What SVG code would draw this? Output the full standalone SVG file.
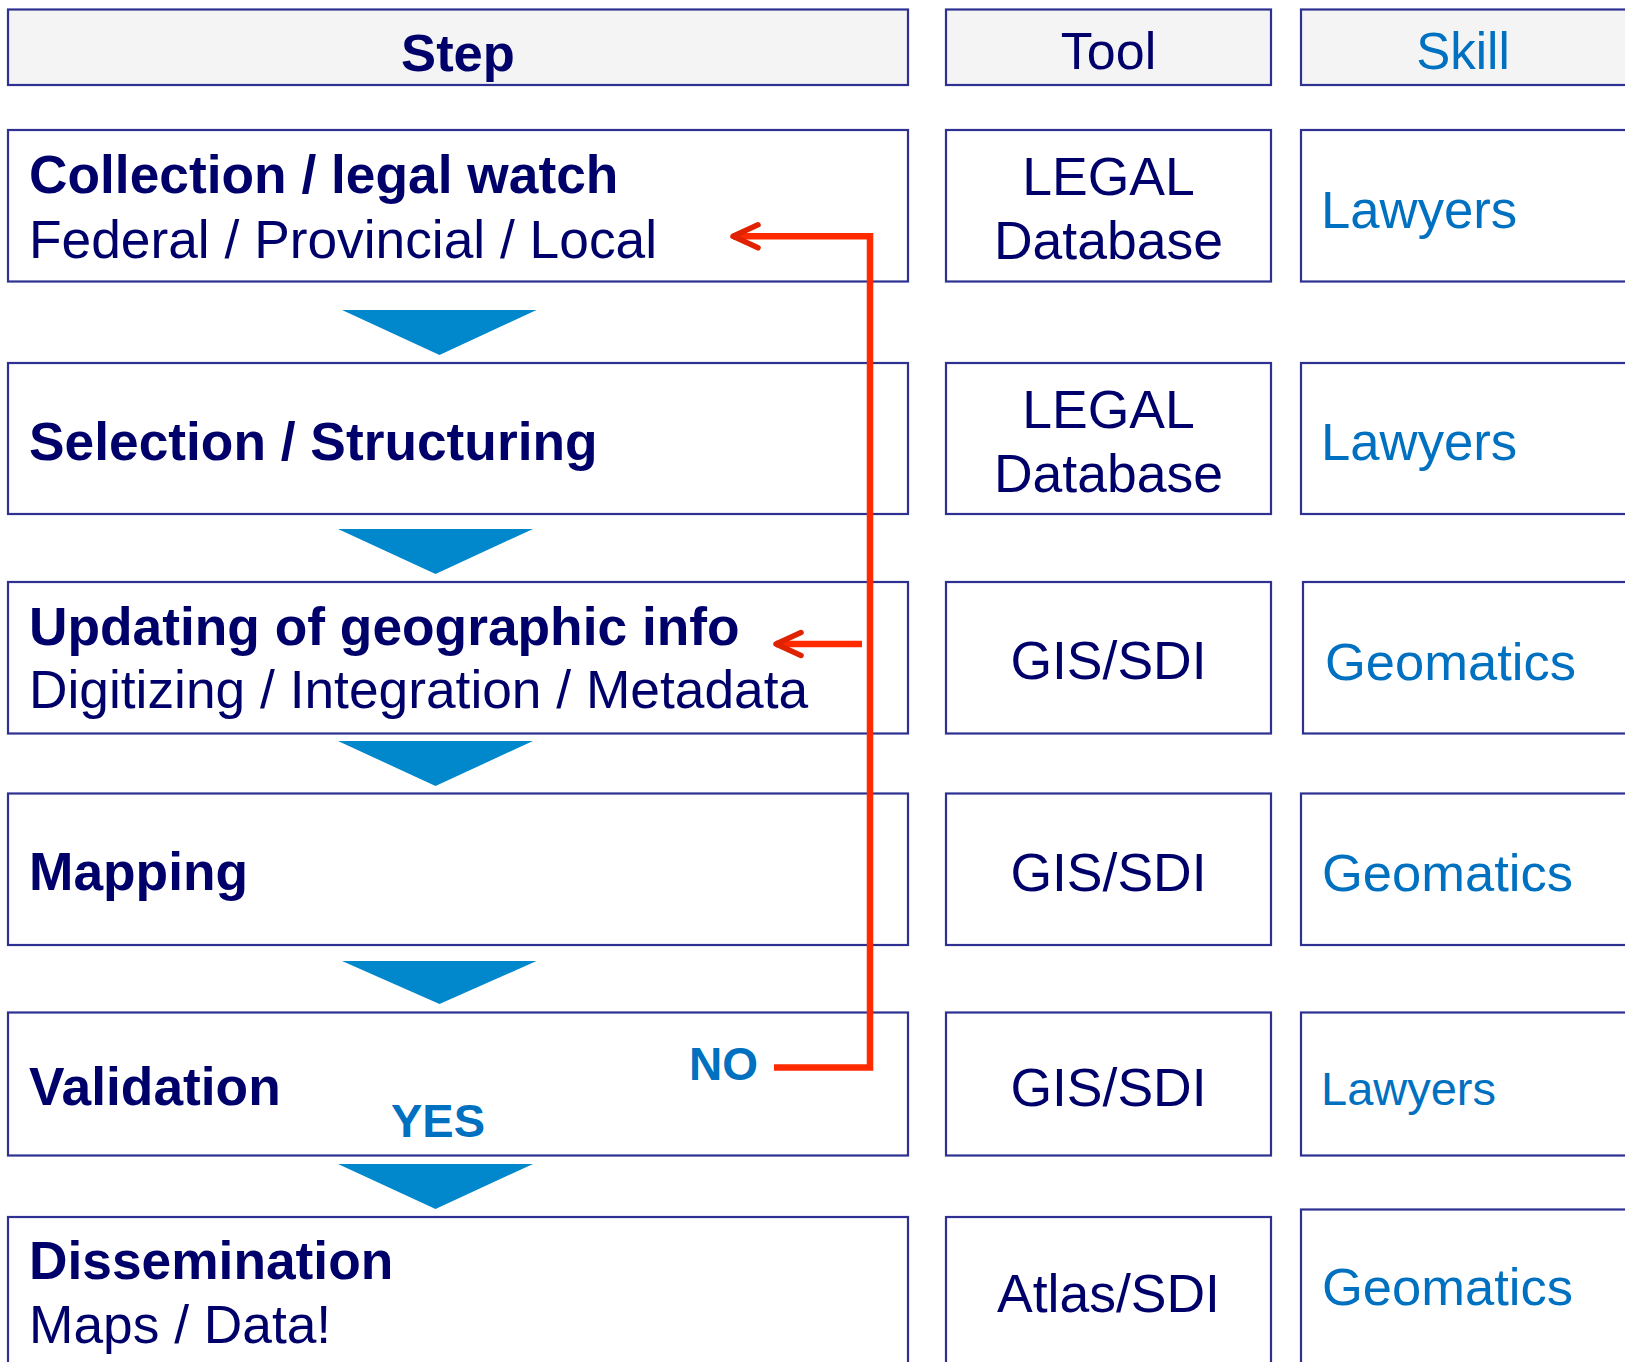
<svg xmlns="http://www.w3.org/2000/svg" width="1625" height="1362" viewBox="0 0 1625 1362">
<style>
.box{fill:#ffffff;stroke:#2E3192;stroke-width:2.2}
.hdr{fill:#F4F4F4;stroke:#2E3192;stroke-width:2.2}
.t{font-family:"Liberation Sans",Arial,sans-serif;fill:#00006B}
.b{font-weight:bold}
.sk{font-family:"Liberation Sans",Arial,sans-serif;fill:#0070C0}
.tri{fill:#0087CC}
.red{fill:none;stroke:#FF2A00;stroke-width:6.5;stroke-linejoin:miter}
</style>
<defs>
<marker id="chev" markerUnits="userSpaceOnUse" orient="auto" overflow="visible" markerWidth="1" markerHeight="1" refX="0" refY="0">
<path d="M -25 -11.5 L 0 0 L -25 11.5" fill="none" stroke="#E02200" stroke-width="5.5" stroke-linecap="round" stroke-linejoin="round"/>
</marker>
</defs>
<rect width="1625" height="1362" fill="#ffffff"/>

<g id="header-step"><rect class="hdr" x="8" y="9.5" width="900" height="75.5"/><text class="t b" x="458" y="71" font-size="52.5" text-anchor="middle">Step</text></g>
<g id="header-tool"><rect class="hdr" x="946" y="9.5" width="325" height="75.5"/><text class="t" x="1108.5" y="69" font-size="52" text-anchor="middle">Tool</text></g>
<g id="header-skill"><rect class="hdr" x="1301" y="9.5" width="400" height="75.5"/><text class="sk" x="1463" y="69" font-size="51" text-anchor="middle">Skill</text></g>

<g id="step-collection"><rect class="box" x="8" y="130" width="900" height="151.5"/><text class="t b" x="29" y="193" font-size="53.3">Collection / legal watch</text><text class="t" x="29" y="258" font-size="53.3">Federal / Provincial / Local</text></g>
<g id="tool-1"><rect class="box" x="946" y="130" width="325" height="151.5"/><text class="t" x="1108.5" y="195" font-size="53.5" text-anchor="middle">LEGAL</text><text class="t" x="1108.5" y="259" font-size="53.5" text-anchor="middle">Database</text></g>
<g id="skill-1"><rect class="box" x="1301" y="130" width="400" height="151.5"/><text class="sk" x="1321" y="228" font-size="52.7">Lawyers</text></g>

<g id="step-selection"><rect class="box" x="8" y="363" width="900" height="151"/><text class="t b" x="29" y="460" font-size="53.3">Selection / Structuring</text></g>
<g id="tool-2"><rect class="box" x="946" y="363" width="325" height="151"/><text class="t" x="1108.5" y="428" font-size="53.5" text-anchor="middle">LEGAL</text><text class="t" x="1108.5" y="492" font-size="53.5" text-anchor="middle">Database</text></g>
<g id="skill-2"><rect class="box" x="1301" y="363" width="400" height="151"/><text class="sk" x="1321" y="460" font-size="52.7">Lawyers</text></g>

<g id="step-updating"><rect class="box" x="8" y="582" width="900" height="151.5"/><text class="t b" x="29" y="645" font-size="53.3">Updating of geographic info</text><text class="t" x="29" y="708" font-size="53.3">Digitizing / Integration / Metadata</text></g>
<g id="tool-3"><rect class="box" x="946" y="582" width="325" height="151.5"/><text class="t" x="1108.5" y="679" font-size="53.5" text-anchor="middle">GIS/SDI</text></g>
<g id="skill-3"><rect class="box" x="1303" y="582" width="400" height="151.5"/><text class="sk" x="1325" y="680" font-size="52.5">Geomatics</text></g>

<g id="step-mapping"><rect class="box" x="8" y="793.5" width="900" height="151.5"/><text class="t b" x="29" y="890" font-size="53.3">Mapping</text></g>
<g id="tool-4"><rect class="box" x="946" y="793.5" width="325" height="151.5"/><text class="t" x="1108.5" y="891" font-size="53.5" text-anchor="middle">GIS/SDI</text></g>
<g id="skill-4"><rect class="box" x="1301" y="793.5" width="400" height="151.5"/><text class="sk" x="1322" y="891" font-size="52.5">Geomatics</text></g>

<g id="step-validation"><rect class="box" x="8" y="1012.5" width="900" height="143"/><text class="t b" x="29" y="1105" font-size="53.3">Validation</text><text class="sk b" x="689" y="1080" font-size="46">NO</text><text class="sk b" x="391" y="1137" font-size="47">YES</text></g>
<g id="tool-5"><rect class="box" x="946" y="1012.5" width="325" height="143"/><text class="t" x="1108.5" y="1106" font-size="53.5" text-anchor="middle">GIS/SDI</text></g>
<g id="skill-5"><rect class="box" x="1301" y="1012.5" width="400" height="143"/><text class="sk" x="1321" y="1104.5" font-size="47">Lawyers</text></g>

<g id="step-dissemination"><rect class="box" x="8" y="1217" width="900" height="200"/><text class="t b" x="29" y="1279" font-size="53.3">Dissemination</text><text class="t" x="29" y="1343" font-size="53.3">Maps / Data!</text></g>
<g id="tool-6"><rect class="box" x="946" y="1217" width="325" height="200"/><text class="t" x="1108.5" y="1312" font-size="53.5" text-anchor="middle">Atlas/SDI</text></g>
<g id="skill-6"><rect class="box" x="1301" y="1209.5" width="400" height="200"/><text class="sk" x="1322" y="1305" font-size="52.5">Geomatics</text></g>

<g id="connectors">
<polygon class="tri" points="342,310 536.5,310 439.5,355"/>
<polygon class="tri" points="338,529 533,529 435.5,574"/>
<polygon class="tri" points="338,741 533,741 435.5,786"/>
<polygon class="tri" points="342,961 536.5,961 439.5,1004"/>
<polygon class="tri" points="338,1164 533,1164 435.5,1209"/>
<path class="red" d="M 774 1067.5 H 870 V 236.3 H 733" marker-end="url(#chev)"/>
<path class="red" d="M 862 644 H 776" marker-end="url(#chev)"/>
</g>
</svg>
